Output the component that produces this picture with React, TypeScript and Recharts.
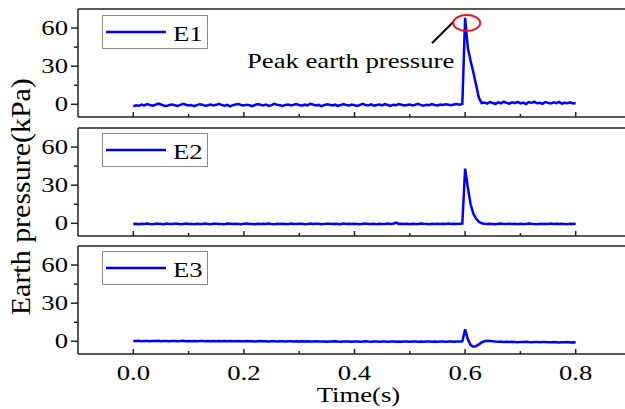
import React from "react";
import {
  LineChart,
  Line,
  XAxis,
  YAxis,
  ReferenceLine,
  ReferenceDot,
  Legend,
  Label,
} from "recharts";

// ---------------- data ----------------
const SAMPLE_STEP = 0.005; // s, recording interval

const E1: number[] = [
  -1.5, -0.8, -1.2, -0.3, -0.9, 0.2, -0.5, -1.1, -0.4, 0.5, -0.2, -0.9, -1.4, -0.6, -0.1, -0.8, -1.3, -0.5, 0.3, -0.4,
  -1.0, -0.6, -1.5, -0.7, 0.1, -0.3, -1.2, -0.8, -0.2, -0.9, -0.4, 0.4, -0.6, -1.1, -0.5, -1.6, -0.7, -0.2, 0.2, -0.5,
  -1.0, -0.3, -0.8, -1.4, -0.6, 0.1, -0.4, -0.9, -0.2, -1.2, -0.7, 0.3, -0.3, -0.8, -1.3, -0.5, -0.1, -0.9, -0.4, 0.2,
  -0.6, -1.1, -0.3, -0.8, 0.4, -0.2, -1.0, -0.5, -1.5, -0.7, 0.0, -0.4, -0.9, -0.3, -1.2, -0.6, 0.2, -0.5, -1.0, -0.2,
  -0.8, -1.3, -0.4, 0.3, -0.6, -0.9, -0.1, -1.1, -0.5, -0.2, -0.8, 0.1, -0.6, -1.2, -0.3, -0.7, 0.2, -0.4, -1.0, -0.5,
  -0.2, -0.9, -0.4, 0.3, -0.6, -1.1, -0.3, -0.7, 0.1, -0.5, -0.9, -0.2, -0.6, 0.0, -0.4, -0.8, -0.2, 0.2, -0.3, 0.4,
  68, 44, 34, 25, 15, 5, 1,
  1.4, 0.6, 1.8, 1.0, 0.3, 1.5, 0.8, 2.0, 1.1, 0.5, 1.6, 0.9, 1.9, 0.7, 1.3, 0.2, 1.7, 1.0, 2.1, 0.8,
  1.2, 0.4, 1.8, 1.1, 0.6, 1.5, 0.9, 1.9, 0.5, 1.2, 0.8, 1.6, 0.7, 1.0,
];

const E2: number[] = [
  -0.6, -0.3, -0.7, -0.4, -0.5, -0.2, -0.6, -0.8, -0.4, -0.3, -0.5, -0.7, -0.2, -0.5, -0.6, -0.3, -0.4, -0.8, -0.5, -0.2,
  -0.6, -0.4, -0.7, -0.3, -0.5, -0.6, -0.2, -0.5, -0.8, -0.4, -0.3, -0.6, -0.5, -0.7, -0.2, -0.4, -0.6, -0.3, -0.5, -0.7,
  -0.4, -0.2, -0.6, -0.5, -0.8, -0.3, -0.5, -0.4, -0.6, -0.2, -0.5, -0.7, -0.3, -0.6, -0.4, -0.5, -0.8, -0.2, -0.5, -0.6,
  -0.3, -0.4, -0.7, -0.5, -0.2, -0.6, -0.4, -0.3, -0.7, -0.5, -0.4, -0.4, -0.6, -0.3, -0.5, -0.7, -0.2, -0.5, -0.4, -0.6,
  -0.3, -0.5, -0.8, -0.4, -0.2, -0.6, -0.5, -0.3, -0.7, -0.4, -0.5, -0.6, -0.2, -0.5, -0.4, 0.6, -0.5, -0.3, -0.6, -0.4,
  -0.7, -0.3, -0.5, -0.6, -0.2, -0.4, -0.5, -0.7, -0.3, -0.5, -0.4, -0.6, -0.3, -0.5, -0.2, -0.6, -0.4, -0.5, -0.3, -0.2,
  43, 28, 15, 7.5, 3.5, 1.2, 0,
  -0.4, -0.6, -0.3, -0.5, -0.7, -0.4, -0.2, -0.5, -0.6, -0.3, -0.5, -0.4, -0.7, -0.3, -0.5, -0.6, -0.2, -0.4, -0.5, -0.7,
  -0.3, -0.5, -0.4, -0.6, -0.2, -0.5, -0.3, -0.6, -0.4, -0.5, -0.7, -0.3, -0.5, -0.4,
];

const E3: number[] = [
  0.3, 0.2, 0.4, 0.1, 0.3, 0.2, 0.0, 0.3, 0.2, 0.4, 0.1, 0.3, 0.2, 0.0, 0.2, 0.3, 0.1, 0.2, 0.4, 0.1,
  0.2, 0.0, 0.3, 0.1, 0.2, 0.3, 0.0, 0.2, 0.1, 0.3, 0.1, 0.2, 0.0, 0.2, 0.1, 0.3, 0.0, 0.1, 0.2, 0.0,
  0.1, 0.2, 0.0, 0.1, -0.1, 0.1, 0.2, 0.0, 0.1, -0.1, 0.0, 0.1, -0.1, 0.1, 0.0, -0.1, 0.1, 0.0, -0.2, 0.0,
  -0.1, 0.0, -0.2, 0.1, -0.1, -0.2, 0.0, -0.1, -0.2, -0.1, -0.3, -0.1, -0.2, 0.0, -0.2, -0.3, -0.1, -0.2, -0.1, -0.3,
  -0.2, -0.1, -0.3, -0.2, 0.0, -0.2, -0.3, -0.1, -0.2, -0.3, -0.1, -0.2, -0.3, -0.2, -0.1, -0.3, -0.2, -0.4, -0.1, -0.2,
  -0.3, -0.2, -0.1, -0.3, -0.2, -0.4, -0.2, -0.1, -0.3, -0.2, -0.3, -0.1, -0.2, -0.3, -0.2, -0.1, -0.3, -0.2, -0.1, 0.0,
  9.4, 1.5, -3.0, -4.3, -3.8, -2.4, -0.9, 0.0, 0.4, 0.3, 0.0, -0.2, -0.3,
  -0.3, -0.5, -0.4, -0.6, -0.4, -0.5, -0.7, -0.5, -0.6, -0.4, -0.6, -0.7, -0.5, -0.6, -0.8, -0.6, -0.5, -0.7, -0.8, -0.6,
  -0.7, -0.9, -0.7, -0.8, -0.6, -0.9, -0.8, -1.0,
];

const SERIES_NAMES = ["E1", "E2", "E3"];
const X_TICKS = [0, 0.1, 0.2, 0.3, 0.4, 0.5, 0.6, 0.7, 0.8];
const Y_TICKS = [0, 15, 30, 45, 60];
const X_DOMAIN: [number, number] = [-0.1, 0.9];
const Y_DOMAIN: [number, number] = [-10, 75];

// annotation (data coordinates of panel E1)
const PEAK_MARK = { t: 0.603, v: 64 };
const POINTER = [
  { x: 0.54, y: 48 },
  { x: 0.579, y: 65 },
];
const PEAK_TEXT = { t: 0.393, v: 28.4, text: "Peak earth pressure" };

// ---------------- style / layout ----------------
const FONT = '"Liberation Serif", "Times New Roman", Times, serif';
const SX = 1.27; // horizontal stretch of the original figure's text
const AXIS = "#222";
const BLUE = "#0000ff";
const W = 640;
const H = 409;

const PANELS = [
  { top: 9, bottom: 117, xh: 30 },
  { top: 128, bottom: 236, xh: 30 },
  { top: 246, bottom: 354, xh: 55 },
];
const LEGEND_TOPS = [15, 133, 251];

function XTick(props: any) {
  const { x, y, payload, showLabel } = props;
  const v = payload.value as number;
  const major = Math.round(v * 10) % 2 === 0;
  return (
    <g>
      <line x1={x} x2={x} y1={y} y2={y - (major ? 5 : 3)} stroke={AXIS} strokeWidth={1.5} />
      {showLabel && major && (
        <text
          transform={`translate(${x},${y + 26}) scale(${SX},1)`}
          textAnchor="middle"
          fontFamily={FONT}
          fontSize={21}
          fill="#000"
        >
          {v.toFixed(1)}
        </text>
      )}
    </g>
  );
}

function YTick(props: any) {
  const { x, y, payload } = props;
  const v = payload.value as number;
  const major = v % 30 === 0;
  return (
    <g>
      <line x1={x} x2={x - (major ? 7 : 4)} y1={y} y2={y} stroke={AXIS} strokeWidth={1.5} />
      {major && (
        <text
          transform={`translate(${x - 10},${y + 7}) scale(${SX},1)`}
          textAnchor="end"
          fontFamily={FONT}
          fontSize={21}
          fill="#000"
        >
          {v}
        </text>
      )}
    </g>
  );
}

function LegendBox({ name }: { name: string }) {
  return (
    <svg width={106} height={34} style={{ display: "block" }}>
      <rect x={0.5} y={0.5} width={105} height={33} fill="#fff" stroke="#8a8a8a" strokeWidth={1} />
      <line x1={4} x2={64} y1={17} y2={17} stroke={BLUE} strokeWidth={2.5} />
      <text
        transform={`translate(71,25.7) scale(${SX},1)`}
        fontFamily={FONT}
        fontSize={21}
        fill="#000"
      >
        {name}
      </text>
    </svg>
  );
}

function Panel({ idx, values }: { idx: number; values: number[] }) {
  const p = PANELS[idx];
  const data = values.map((v, i) => ({ t: +(i * SAMPLE_STEP).toFixed(3), v }));
  const isBottom = idx === 2;
  return (
    <div style={{ position: "absolute", left: 0, top: 0 }}>
      <LineChart
        width={W}
        height={H}
        data={data}
        margin={{ top: p.top, right: 9, left: 8, bottom: H - p.bottom - p.xh }}
      >
        <XAxis
          dataKey="t"
          type="number"
          domain={X_DOMAIN}
          allowDataOverflow
          ticks={X_TICKS}
          interval={0}
          height={p.xh}
          tickSize={0}
          tickMargin={0}
          tickLine={false}
          axisLine={{ stroke: AXIS, strokeWidth: 1.5 }}
          tick={(tp: any) => <XTick {...tp} showLabel={isBottom} />}
        >
          {isBottom && (
            <Label
              content={(lp: any) => {
                const vb = lp.viewBox || {};
                return (
                  <text
                    transform={`translate(${vb.x + vb.width / 2 + 4},${vb.y + 47.5}) scale(${SX},1)`}
                    textAnchor="middle"
                    fontFamily={FONT}
                    fontSize={21}
                    fill="#000"
                  >
                    Time(s)
                  </text>
                );
              }}
            />
          )}
        </XAxis>
        <YAxis
          type="number"
          domain={Y_DOMAIN}
          allowDataOverflow
          ticks={Y_TICKS}
          interval={0}
          width={70}
          tickSize={0}
          tickMargin={0}
          tickLine={false}
          axisLine={{ stroke: AXIS, strokeWidth: 1.5 }}
          tick={(tp: any) => <YTick {...tp} />}
        >
          {idx === 1 && (
            <Label
              content={() => (
                <text
                  transform={`translate(30,196.7) scale(${SX},1) rotate(-90)`}
                  textAnchor="middle"
                  fontFamily={FONT}
                  fontSize={21}
                  fill="#000"
                  textLength={237}
                  lengthAdjust="spacingAndGlyphs"
                >
                  Earth pressure(kPa)
                </text>
              )}
            />
          )}
        </YAxis>
        <ReferenceLine y={Y_DOMAIN[1]} stroke={AXIS} strokeWidth={1.5} />
        <Line
          type="linear"
          dataKey="v"
          name={SERIES_NAMES[idx]}
          stroke={BLUE}
          strokeWidth={2.5}
          dot={false}
          isAnimationActive={false}
        />
        {idx === 0 && (
          <ReferenceLine segment={POINTER} stroke="#000" strokeWidth={2} />
        )}
        {idx === 0 && (
          <ReferenceDot
            x={PEAK_MARK.t}
            y={PEAK_MARK.v}
            r={0}
            shape={(sp: any) => (
              <ellipse cx={sp.cx} cy={sp.cy} rx={13.5} ry={8} fill="none" stroke="#e8141c" strokeWidth={2} />
            )}
          />
        )}
        {idx === 0 && (
          <ReferenceDot
            x={PEAK_TEXT.t}
            y={PEAK_TEXT.v}
            r={0}
            shape={(sp: any) => (
              <text
                transform={`translate(${sp.cx},${sp.cy}) scale(${SX},1)`}
                textAnchor="middle"
                fontFamily={FONT}
                fontSize={21}
                fill="#000"
              >
                {PEAK_TEXT.text}
              </text>
            )}
          />
        )}
        <Legend
          layout="horizontal"
          verticalAlign="middle"
          align="center"
          wrapperStyle={{ left: 102, top: LEGEND_TOPS[idx], width: 106, height: 34 }}
          content={() => <LegendBox name={SERIES_NAMES[idx]} />}
        />
      </LineChart>
    </div>
  );
}

export default function App() {
  return (
    <div
      style={{
        position: "absolute",
        left: 0,
        top: 0,
        width: 625,
        height: 409,
        overflow: "hidden",
        background: "#fff",
      }}
    >
      <Panel idx={0} values={E1} />
      <Panel idx={1} values={E2} />
      <Panel idx={2} values={E3} />
    </div>
  );
}
